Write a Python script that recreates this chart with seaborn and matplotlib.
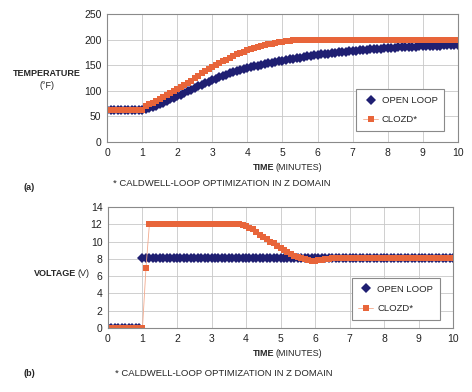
import numpy as np
import pandas as pd
import matplotlib
matplotlib.use('Agg')
import matplotlib.pyplot as plt
import seaborn as sns

# ---------------------------------------------------------
# datos (muestras cada 0.1 min)
# ---------------------------------------------------------
tiempo = np.round(np.arange(0, 101) * 0.1, 1)

temp_open = [62] * 11 + [
    64, 66, 69, 71, 74, 77, 80, 83, 86, 89,
    92, 96, 99, 102, 105, 109, 112, 115, 118, 121,
    123, 126, 129, 131, 134, 136, 138, 141, 143, 145,
    146, 148, 149, 151, 152, 154, 155, 157, 158, 159,
    160, 162, 163, 164, 165, 166, 167, 168, 169, 170,
    171, 172, 172, 173, 174, 175, 176, 176, 177, 178,
    178, 179, 180, 180, 181, 181, 182, 182, 183, 183,
    184, 184, 185, 185, 185, 186, 186, 186, 187, 187,
    187, 188, 188, 188, 188, 189, 189, 189, 189, 190]

temp_clozd = [62] * 11 + [
    71, 74, 77, 80, 83, 87, 91, 95, 99, 103,
    107, 111, 116, 120, 125, 129, 134, 138, 142, 146,
    150, 154, 158, 161, 165, 168, 171, 174, 176, 179,
    181, 183, 185, 187, 189, 191, 192, 194, 195, 196,
    197, 198, 199, 199, 200] + [200] * 45

volt_open = [0] * 10 + [8.1] * 91

volt_clozd = [0] * 11 + [6.9] + [12] * 27 + [
    11.95, 11.8, 11.6, 11.4, 11.1, 10.8, 10.5, 10.3, 10.0, 9.8,
    9.5, 9.3, 9.0, 8.8, 8.55, 8.35, 8.2, 8.05, 7.95, 7.85,
    7.8, 7.8, 7.85, 7.9, 7.95, 8.0, 8.05] + [8.1] * 35

nota = '* CALDWELL-LOOP OPTIMIZATION IN Z DOMAIN'
azul = '#1f1f72'
naranja = '#e8653a'

df_t = pd.DataFrame({'t': tiempo, 'open': temp_open, 'clozd': temp_clozd})
df_v = pd.DataFrame({'t': tiempo, 'open': volt_open, 'clozd': volt_clozd})

sns.set_style('whitegrid', {'grid.color': '#c8c8c8', 'axes.edgecolor': '#8a8a8a'})
plt.rcParams['font.family'] = ['Liberation Sans', 'DejaVu Sans']

fig = plt.figure(figsize=(4.72, 3.92), dpi=100)
ax1 = fig.add_axes([0.2267, 0.6378, 0.7436, 0.3265])
ax2 = fig.add_axes([0.2288, 0.1633, 0.731, 0.3087])


def dibujar(ax, df, ymax, ystep, ancla):
    sns.lineplot(data=df, x='t', y='open', ax=ax, color=azul, marker='D',
                 markersize=5.5, markeredgewidth=0, linestyle='', label='OPEN LOOP')
    sns.lineplot(data=df, x='t', y='clozd', ax=ax, color='#f3a98c', linewidth=0.6,
                 marker='s', markersize=5, markerfacecolor=naranja,
                 markeredgewidth=0, label='CLOZD*')
    ax.set_xlim(0, 10)
    ax.set_ylim(0, ymax)
    ax.set_xticks(range(0, 11))
    ax.set_yticks(np.arange(0, ymax + 0.1, ystep))
    ax.set_xlabel('')
    ax.set_ylabel('')
    ax.tick_params(labelsize=7.5, colors='#222222', length=2, pad=2)
    ax.tick_params(axis='both', color='#8a8a8a')
    for s in ax.spines.values():
        s.set_linewidth(0.8)
    ax.grid(True, linewidth=0.6)
    leg = ax.legend(loc='lower right', fontsize=6.8, frameon=True, fancybox=False,
                    edgecolor='#8a8a8a', framealpha=1, handlelength=1.6,
                    borderpad=0.7, labelspacing=1.1, handletextpad=0.4,
                    bbox_to_anchor=ancla)
    leg.get_frame().set_linewidth(0.8)


dibujar(ax1, df_t, 250, 50, (0.975, 0.05))
dibujar(ax2, df_v, 14, 2, (0.975, 0.03))

# etiquetas de ejes y notas
fig.text(47 / 472, 1 - 73 / 392, 'TEMPERATURE', fontsize=6.5, fontweight='bold',
         ha='center', va='center')
fig.text(47 / 472, 1 - 85 / 392, '(°F)', fontsize=6.5, ha='center', va='center')

fig.text(90 / 472, 1 - 273 / 392, '(V)', fontsize=6.5, ha='right', va='center')
fig.text(76 / 472, 1 - 273 / 392, 'VOLTAGE', fontsize=6.5, fontweight='bold',
         ha='right', va='center')

for y in (168, 353):
    fig.text(274 / 472, 1 - y / 392, 'TIME', fontsize=6.5, fontweight='bold',
             ha='right', va='center')
    fig.text(276 / 472, 1 - y / 392, '(MINUTES)', fontsize=6.5, ha='left', va='center')

fig.text(24 / 472, 1 - 188 / 392, '(a)', fontsize=6.5, fontweight='bold', va='center')
fig.text(113 / 472, 1 - 183 / 392, nota, fontsize=6.8, va='center')
fig.text(24 / 472, 1 - 374 / 392, '(b)', fontsize=6.5, fontweight='bold', va='center')
fig.text(115 / 472, 1 - 373 / 392, nota, fontsize=6.8, va='center')

fig.savefig('out.png', dpi=100)
plt.close(fig)
